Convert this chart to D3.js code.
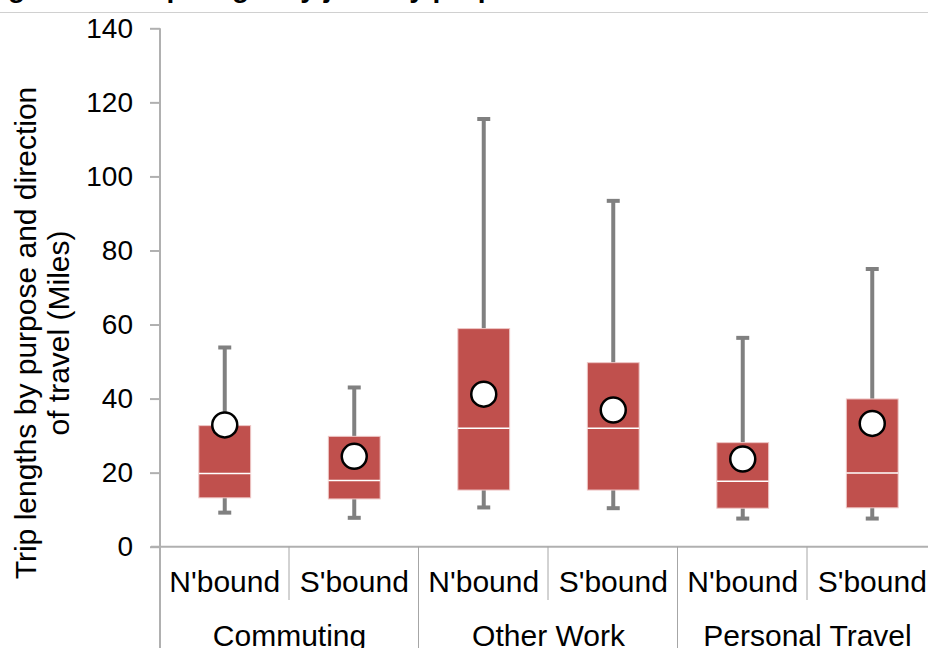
<!DOCTYPE html>
<html>
<head>
<meta charset="utf-8">
<script src="https://cdn.jsdelivr.net/npm/d3@7"></script>
<style>
  html, body { margin: 0; padding: 0; background: #fff; overflow: hidden; }
  svg { display: block; font-family: "Liberation Sans", Arial, sans-serif; }
</style>
</head>
<body>
<div id="chart"></div>
<script>
// Data (miles)
const categories = ["Commuting", "Other Work", "Personal Travel"];
const directions = ["N'bound", "S'bound"];
const whiskerLow  = [9.2, 7.8, 10.6, 10.4, 7.6, 7.6];
const quartile1   = [13.2, 12.9, 15.3, 15.3, 10.4, 10.5];
const median      = [19.8, 17.9, 32.0, 32.0, 17.7, 19.9];
const quartile3   = [32.7, 29.8, 58.9, 49.7, 28.1, 39.9];
const whiskerHigh = [53.8, 43.0, 115.5, 93.4, 56.4, 75.0];
const mean        = [32.9, 24.4, 41.2, 36.9, 23.7, 33.3];
const yTicks = [0, 20, 40, 60, 80, 100, 120, 140];
const titleText = "Figure 4.1: Trip length by journey purpose";
const yLabelLines = ["Trip lengths by purpose and direction", "of travel (Miles)"];

const width = 928, height = 648;
const margin = { top: 28.3, left: 160, bottom: 546.7 };
const slotWidth = 129.5;

const rows = [];
categories.forEach((c, ci) => directions.forEach((d, di) => {
  const i = ci * directions.length + di;
  rows.push({
    key: c + "|" + d, cat: c, dir: d,
    lo: whiskerLow[i], q1: quartile1[i], med: median[i],
    q3: quartile3[i], hi: whiskerHigh[i], mean: mean[i]
  });
}));

const svg = d3.select("#chart").append("svg")
  .attr("width", width)
  .attr("height", height);

const x = d3.scaleBand()
  .domain(rows.map(d => d.key))
  .range([margin.left, margin.left + slotWidth * rows.length])
  .padding(0);

const xGroup = d3.scaleBand()
  .domain(categories)
  .range([margin.left, margin.left + slotWidth * rows.length])
  .padding(0);

const y = d3.scaleLinear()
  .domain([0, 140])
  .range([margin.bottom, margin.top]);

// clipped title at the very top + rule under it
svg.append("text")
  .attr("x", -17)
  .attr("y", -3)
  .attr("font-size", 28)
  .attr("font-weight", "bold")
  .attr("fill", "#000")
  .text(titleText);

svg.append("line")
  .attr("x1", 0).attr("x2", width)
  .attr("y1", 12.5).attr("y2", 12.5)
  .attr("stroke", "#d0d0d0")
  .attr("stroke-width", 1);

// Y axis
const yAxis = svg.append("g")
  .attr("transform", `translate(${margin.left},0)`)
  .call(d3.axisLeft(y).tickValues(yTicks).tickSize(10).tickPadding(17));

yAxis.select(".domain").remove();
yAxis.selectAll(".tick line")
  .attr("stroke", "#b0b0b0")
  .attr("stroke-width", 2);
yAxis.selectAll(".tick text")
  .attr("font-size", 28)
  .attr("fill", "#000")
  .attr("font-family", "'Liberation Sans', Arial, sans-serif");

svg.append("line")
  .attr("x1", margin.left).attr("x2", margin.left)
  .attr("y1", y(140)).attr("y2", height)
  .attr("stroke", "#b0b0b0")
  .attr("stroke-width", 2);

// X axis line
svg.append("line")
  .attr("x1", margin.left - 9).attr("x2", width)
  .attr("y1", y(0)).attr("y2", y(0))
  .attr("stroke", "#b0b0b0")
  .attr("stroke-width", 2);

// category separators: short between directions, long between groups
rows.slice(1).forEach((d, i) => {
  const long = (i + 1) % directions.length === 0;
  svg.append("line")
    .attr("x1", x(d.key) - 0.5).attr("x2", x(d.key) - 0.5)
    .attr("y1", y(0)).attr("y2", long ? height : 600)
    .attr("stroke", "#a6a6a6")
    .attr("stroke-width", 1);
});

// direction labels
svg.selectAll(".dir-label")
  .data(rows)
  .enter()
  .append("text")
  .attr("class", "dir-label")
  .attr("x", d => x(d.key) + x.bandwidth() / 2)
  .attr("y", 592)
  .attr("text-anchor", "middle")
  .attr("font-size", 30)
  .attr("fill", "#000")
  .text(d => d.dir);

// group labels
svg.selectAll(".cat-label")
  .data(categories)
  .enter()
  .append("text")
  .attr("class", "cat-label")
  .attr("x", d => xGroup(d) + xGroup.bandwidth() / 2)
  .attr("y", 646)
  .attr("text-anchor", "middle")
  .attr("font-size", 30)
  .attr("fill", "#000")
  .text(d => d);

// Y axis title
const yTitle = svg.append("text")
  .attr("transform", `translate(0,333) rotate(-90)`)
  .attr("text-anchor", "middle")
  .attr("font-size", 30)
  .attr("fill", "#000");

yLabelLines.forEach((line, i) => {
  yTitle.append("tspan")
    .attr("x", 0)
    .attr("y", i === 0 ? 36 : 69)
    .text(line);
});

// boxes
const boxWidth = x.bandwidth() * 0.4;
const capWidth = 13;

const box = svg.selectAll(".box")
  .data(rows)
  .enter()
  .append("g")
  .attr("class", "box")
  .attr("transform", d => `translate(${x(d.key) + x.bandwidth() / 2},0)`);

// whisker line
box.append("line")
  .attr("x1", 0).attr("x2", 0)
  .attr("y1", d => y(d.lo)).attr("y2", d => y(d.hi))
  .attr("stroke", "#808080")
  .attr("stroke-width", 4);

// whisker caps
box.append("line")
  .attr("x1", -capWidth / 2).attr("x2", capWidth / 2)
  .attr("y1", d => y(d.hi)).attr("y2", d => y(d.hi))
  .attr("stroke", "#808080")
  .attr("stroke-width", 4);

box.append("line")
  .attr("x1", -capWidth / 2).attr("x2", capWidth / 2)
  .attr("y1", d => y(d.lo)).attr("y2", d => y(d.lo))
  .attr("stroke", "#808080")
  .attr("stroke-width", 4);

// interquartile box
box.append("rect")
  .attr("x", -boxWidth / 2)
  .attr("width", boxWidth)
  .attr("y", d => y(d.q3))
  .attr("height", d => y(d.q1) - y(d.q3))
  .attr("fill", "#c0504d")
  .attr("stroke", "#eec7c6")
  .attr("stroke-width", 1);

// median
box.append("line")
  .attr("x1", -boxWidth / 2).attr("x2", boxWidth / 2)
  .attr("y1", d => y(d.med)).attr("y2", d => y(d.med))
  .attr("stroke", "#ffffff")
  .attr("stroke-width", 1.5);

// mean marker
box.append("circle")
  .attr("cx", 0)
  .attr("cy", d => y(d.mean))
  .attr("r", 12.5)
  .attr("fill", "#ffffff")
  .attr("stroke", "#000")
  .attr("stroke-width", 2.5);
</script>
</body>
</html>
